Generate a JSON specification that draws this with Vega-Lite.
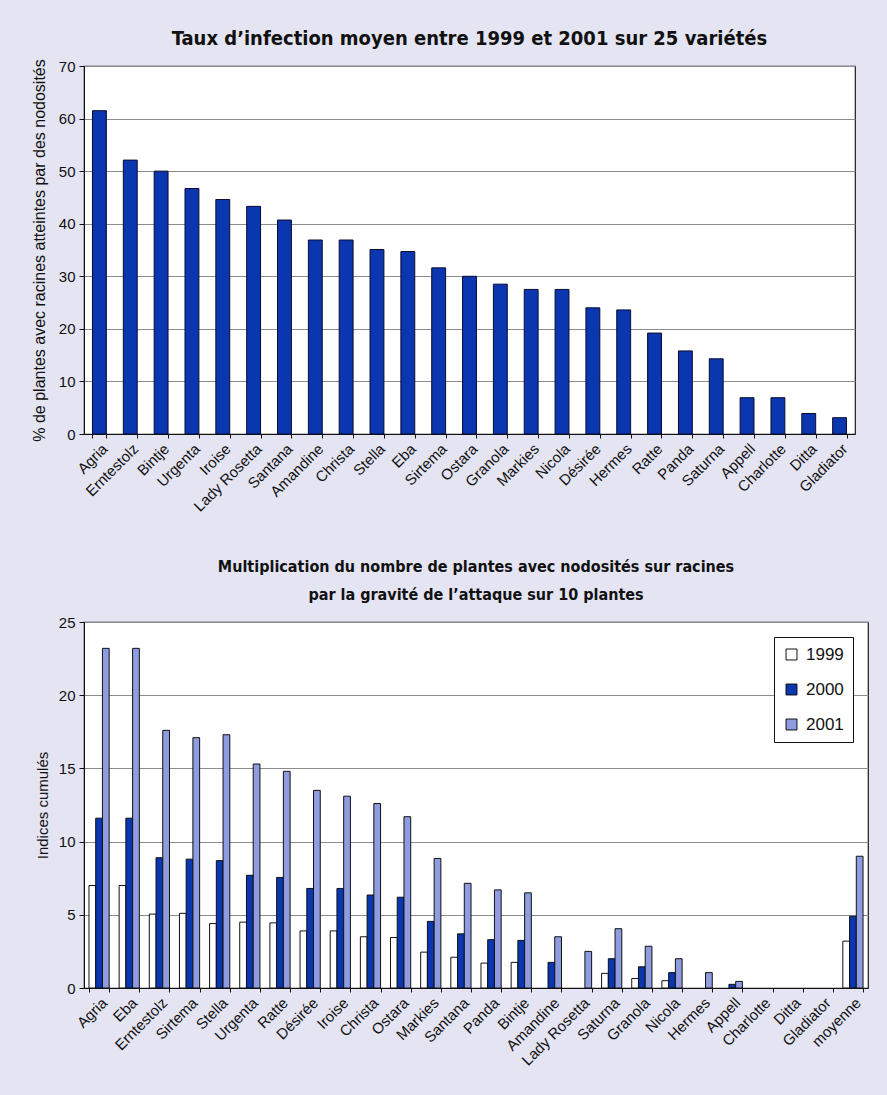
{
  "$schema": "https://vega.github.io/schema/vega-lite/v6.json",
  "background": "#e4e4f3",
  "padding": {"left": 30, "top": 28, "right": 18, "bottom": 26},
  "spacing": 43,
  "config": {
    "font": "Liberation Sans, Arial, sans-serif",
    "view": {"fill": "white", "stroke": "#1a1a1a", "strokeWidth": 1.2},
    "axis": {
      "labelFont": "Liberation Sans, Arial, sans-serif",
      "titleFont": "Liberation Sans, Arial, sans-serif",
      "labelColor": "#111",
      "titleColor": "#111",
      "labelFontSize": 15,
      "titleFontSize": 15,
      "titleFontWeight": "normal",
      "domainColor": "#111",
      "tickColor": "#111",
      "gridColor": "#8c8c8c",
      "gridOpacity": 1
    },
    "title": {
      "font": "Liberation Sans Narrow, DejaVu Sans Condensed, Arial Narrow, sans-serif",
      "fontWeight": "bold",
      "color": "#111"
    }
  },
  "vconcat": [
    {
      "width": 771,
      "height": 368,
      "title": {
        "text": "Taux d’infection moyen entre 1999 et 2001 sur 25 variétés",
        "fontSize": 20,
        "offset": 10
      },
      "data": {
        "values": [
          {"variete": "Agria", "taux": 61.5},
          {"variete": "Erntestolz", "taux": 52.1},
          {"variete": "Bintje", "taux": 50.0},
          {"variete": "Urgenta", "taux": 46.7},
          {"variete": "Iroise", "taux": 44.6},
          {"variete": "Lady Rosetta", "taux": 43.3},
          {"variete": "Santana", "taux": 40.7},
          {"variete": "Amandine", "taux": 36.9},
          {"variete": "Christa", "taux": 36.9},
          {"variete": "Stella", "taux": 35.1},
          {"variete": "Eba", "taux": 34.7},
          {"variete": "Sirtema", "taux": 31.6},
          {"variete": "Ostara", "taux": 30.0},
          {"variete": "Granola", "taux": 28.5},
          {"variete": "Markies", "taux": 27.5},
          {"variete": "Nicola", "taux": 27.5},
          {"variete": "Désirée", "taux": 24.0},
          {"variete": "Hermes", "taux": 23.6},
          {"variete": "Ratte", "taux": 19.2},
          {"variete": "Panda", "taux": 15.8},
          {"variete": "Saturna", "taux": 14.3},
          {"variete": "Appell", "taux": 6.9},
          {"variete": "Charlotte", "taux": 6.9},
          {"variete": "Ditta", "taux": 3.9},
          {"variete": "Gladiator", "taux": 3.1}
        ]
      },
      "mark": {"type": "bar", "color": "#0a36b0", "stroke": "#0a0a30", "strokeWidth": 1},
      "encoding": {
        "x": {
          "field": "variete",
          "type": "nominal",
          "sort": null,
          "scale": {"paddingInner": 0.55, "paddingOuter": 0.275},
          "axis": {"title": null, "labelAngle": -45, "tickBand": "extent", "tickSize": 4, "labelPadding": 3, "grid": false}
        },
        "y": {
          "field": "taux",
          "type": "quantitative",
          "scale": {"domain": [0, 70], "nice": false},
          "axis": {
            "title": "% de plantes avec racines atteintes par des nodosités",
            "titleFontSize": 16,
            "values": [0, 10, 20, 30, 40, 50, 60, 70],
            "tickSize": 5,
            "labelPadding": 4,
            "titlePadding": 11
          }
        }
      }
    },
    {
      "width": 784,
      "height": 366,
      "title": {
        "text": ["Multiplication du nombre de plantes avec nodosités sur racines", "par la gravité de l’attaque sur 10 plantes"],
        "fontSize": 16,
        "lineHeight": 28,
        "offset": 12
      },
      "data": {
        "values": [
          {"variete": "Agria", "annee": "1999", "indice": 7.0},
          {"variete": "Agria", "annee": "2000", "indice": 11.6},
          {"variete": "Agria", "annee": "2001", "indice": 23.2},
          {"variete": "Eba", "annee": "1999", "indice": 7.0},
          {"variete": "Eba", "annee": "2000", "indice": 11.6},
          {"variete": "Eba", "annee": "2001", "indice": 23.2},
          {"variete": "Erntestolz", "annee": "1999", "indice": 5.05},
          {"variete": "Erntestolz", "annee": "2000", "indice": 8.9},
          {"variete": "Erntestolz", "annee": "2001", "indice": 17.6},
          {"variete": "Sirtema", "annee": "1999", "indice": 5.1},
          {"variete": "Sirtema", "annee": "2000", "indice": 8.8},
          {"variete": "Sirtema", "annee": "2001", "indice": 17.1},
          {"variete": "Stella", "annee": "1999", "indice": 4.4},
          {"variete": "Stella", "annee": "2000", "indice": 8.7},
          {"variete": "Stella", "annee": "2001", "indice": 17.3},
          {"variete": "Urgenta", "annee": "1999", "indice": 4.5},
          {"variete": "Urgenta", "annee": "2000", "indice": 7.7},
          {"variete": "Urgenta", "annee": "2001", "indice": 15.3},
          {"variete": "Ratte", "annee": "1999", "indice": 4.45},
          {"variete": "Ratte", "annee": "2000", "indice": 7.55},
          {"variete": "Ratte", "annee": "2001", "indice": 14.8},
          {"variete": "Désirée", "annee": "1999", "indice": 3.9},
          {"variete": "Désirée", "annee": "2000", "indice": 6.8},
          {"variete": "Désirée", "annee": "2001", "indice": 13.5},
          {"variete": "Iroise", "annee": "1999", "indice": 3.9},
          {"variete": "Iroise", "annee": "2000", "indice": 6.8},
          {"variete": "Iroise", "annee": "2001", "indice": 13.1},
          {"variete": "Christa", "annee": "1999", "indice": 3.5},
          {"variete": "Christa", "annee": "2000", "indice": 6.35},
          {"variete": "Christa", "annee": "2001", "indice": 12.6},
          {"variete": "Ostara", "annee": "1999", "indice": 3.45},
          {"variete": "Ostara", "annee": "2000", "indice": 6.2},
          {"variete": "Ostara", "annee": "2001", "indice": 11.7},
          {"variete": "Markies", "annee": "1999", "indice": 2.45},
          {"variete": "Markies", "annee": "2000", "indice": 4.55},
          {"variete": "Markies", "annee": "2001", "indice": 8.85},
          {"variete": "Santana", "annee": "1999", "indice": 2.1},
          {"variete": "Santana", "annee": "2000", "indice": 3.7},
          {"variete": "Santana", "annee": "2001", "indice": 7.15},
          {"variete": "Panda", "annee": "1999", "indice": 1.7},
          {"variete": "Panda", "annee": "2000", "indice": 3.3},
          {"variete": "Panda", "annee": "2001", "indice": 6.7},
          {"variete": "Bintje", "annee": "1999", "indice": 1.75},
          {"variete": "Bintje", "annee": "2000", "indice": 3.25},
          {"variete": "Bintje", "annee": "2001", "indice": 6.5},
          {"variete": "Amandine", "annee": "1999", "indice": 0},
          {"variete": "Amandine", "annee": "2000", "indice": 1.75},
          {"variete": "Amandine", "annee": "2001", "indice": 3.5},
          {"variete": "Lady Rosetta", "annee": "1999", "indice": 0},
          {"variete": "Lady Rosetta", "annee": "2000", "indice": 0},
          {"variete": "Lady Rosetta", "annee": "2001", "indice": 2.5},
          {"variete": "Saturna", "annee": "1999", "indice": 1.0},
          {"variete": "Saturna", "annee": "2000", "indice": 2.0},
          {"variete": "Saturna", "annee": "2001", "indice": 4.05},
          {"variete": "Granola", "annee": "1999", "indice": 0.65},
          {"variete": "Granola", "annee": "2000", "indice": 1.45},
          {"variete": "Granola", "annee": "2001", "indice": 2.85},
          {"variete": "Nicola", "annee": "1999", "indice": 0.5},
          {"variete": "Nicola", "annee": "2000", "indice": 1.05},
          {"variete": "Nicola", "annee": "2001", "indice": 2.0},
          {"variete": "Hermes", "annee": "1999", "indice": 0},
          {"variete": "Hermes", "annee": "2000", "indice": 0},
          {"variete": "Hermes", "annee": "2001", "indice": 1.05},
          {"variete": "Appell", "annee": "1999", "indice": 0},
          {"variete": "Appell", "annee": "2000", "indice": 0.25},
          {"variete": "Appell", "annee": "2001", "indice": 0.45},
          {"variete": "Charlotte", "annee": "1999", "indice": 0},
          {"variete": "Charlotte", "annee": "2000", "indice": 0},
          {"variete": "Charlotte", "annee": "2001", "indice": 0},
          {"variete": "Ditta", "annee": "1999", "indice": 0},
          {"variete": "Ditta", "annee": "2000", "indice": 0},
          {"variete": "Ditta", "annee": "2001", "indice": 0},
          {"variete": "Gladiator", "annee": "1999", "indice": 0},
          {"variete": "Gladiator", "annee": "2000", "indice": 0},
          {"variete": "Gladiator", "annee": "2001", "indice": 0},
          {"variete": "moyenne", "annee": "1999", "indice": 3.2},
          {"variete": "moyenne", "annee": "2000", "indice": 4.9},
          {"variete": "moyenne", "annee": "2001", "indice": 9.0}
        ]
      },
      "mark": {"type": "bar", "stroke": "#111", "strokeWidth": 1},
      "encoding": {
        "x": {
          "field": "variete",
          "type": "nominal",
          "sort": null,
          "scale": {"paddingInner": 0.33, "paddingOuter": 0.165},
          "axis": {"title": null, "labelAngle": -45, "tickBand": "extent", "tickSize": 4, "labelPadding": 3, "grid": false}
        },
        "xOffset": {"field": "annee", "type": "nominal", "scale": {"paddingInner": 0, "paddingOuter": 0}},
        "y": {
          "field": "indice",
          "type": "quantitative",
          "scale": {"domain": [0, 25], "nice": false},
          "axis": {
            "title": "Indices cumulés",
            "values": [0, 5, 10, 15, 20, 25],
            "tickSize": 5,
            "labelPadding": 4,
            "titlePadding": 8
          }
        },
        "strokeOpacity": {
          "condition": {"test": "datum.indice > 0", "value": 1},
          "value": 0
        },
        "color": {
          "field": "annee",
          "type": "nominal",
          "scale": {"domain": ["1999", "2000", "2001"], "range": ["#ffffff", "#0a36b0", "#8f9de0"]},
          "legend": {
            "title": null,
            "orient": "none",
            "legendX": 690,
            "legendY": 571,
            "fillColor": "white",
            "strokeColor": "#111",
            "padding": 9,
            "labelFontSize": 17,
            "labelColor": "#111",
            "labelOffset": 6,
            "symbolType": "square",
            "symbolSize": 120,
            "symbolStrokeColor": "#111",
            "symbolStrokeWidth": 1,
            "symbolOpacity": 1,
            "rowPadding": 17
          }
        }
      }
    }
  ]
}
